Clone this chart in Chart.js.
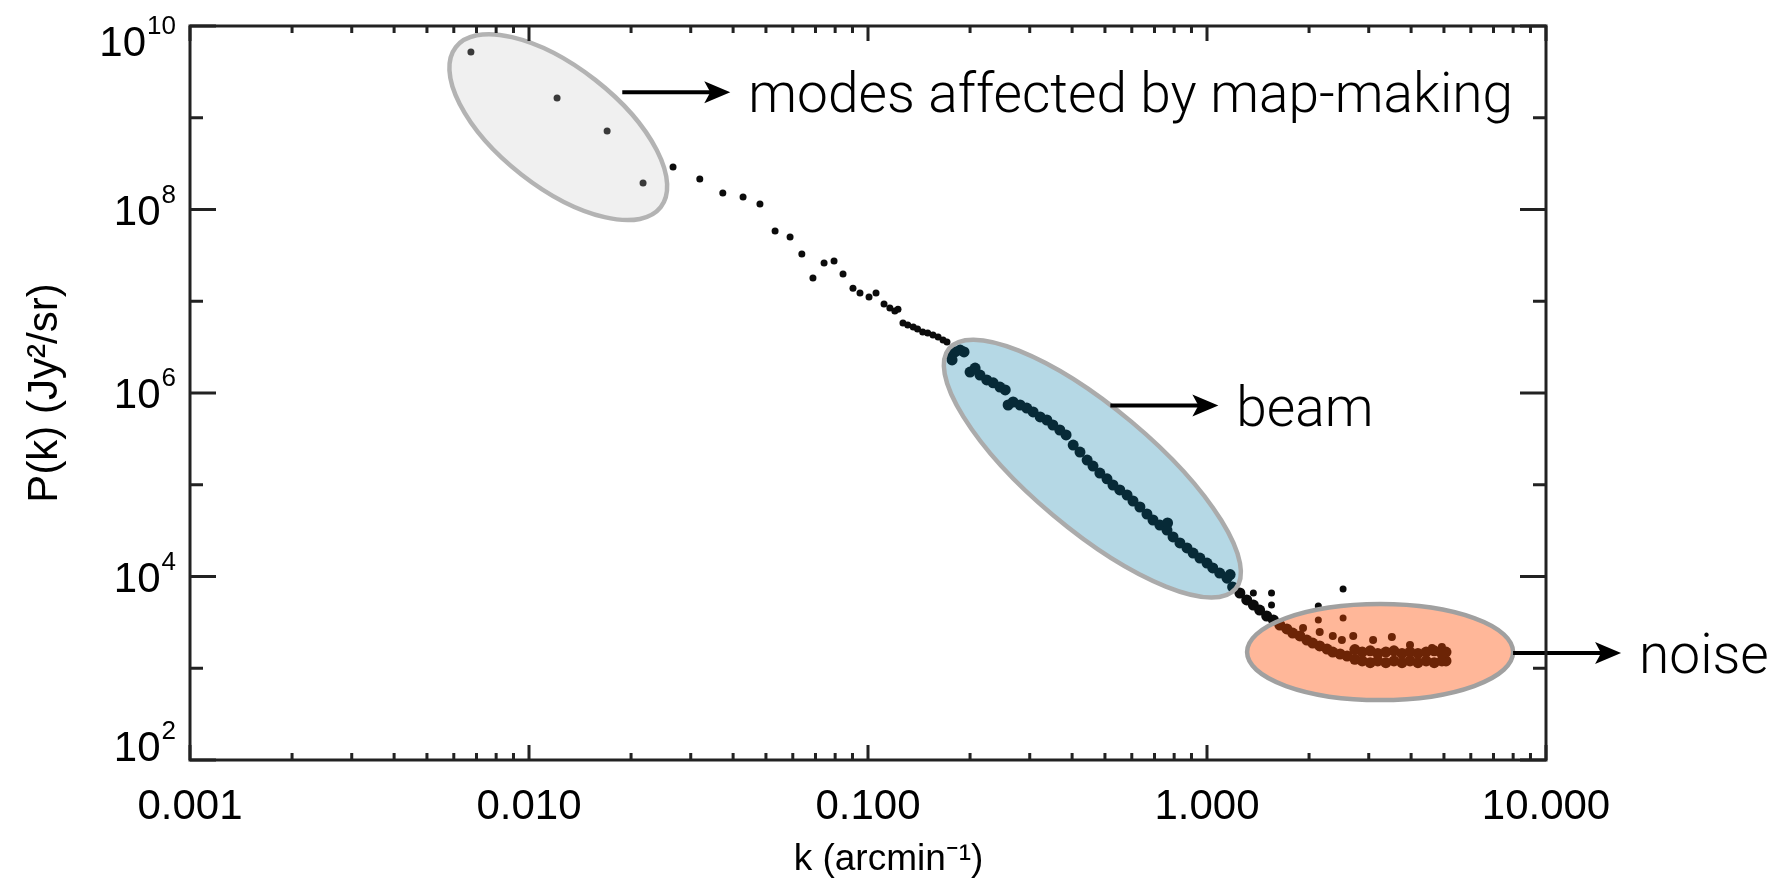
<!DOCTYPE html>
<html>
<head>
<meta charset="utf-8">
<script src="https://cdn.jsdelivr.net/npm/chart.js@4.4.1/dist/chart.umd.min.js"></script>
<style>
  html, body { margin: 0; padding: 0; background: #fff; }
  #wrap { width: 1779px; height: 882px; position: relative; }
</style>
</head>
<body>
<div id="wrap"><canvas id="pk"></canvas></div>
<script>
// low-k bins, sparse dots (grey ellipse and the run down to the beam)
const kLow = [0.00674, 0.0121, 0.0170, 0.0217, 0.0266, 0.0319, 0.0373, 0.0428, 0.0480, 0.0532,
    0.0589, 0.0638, 0.0688, 0.0742, 0.0794, 0.0844, 0.0903, 0.0947, 0.1007, 0.1056,
    0.1115, 0.116, 0.120, 0.1226, 0.1268, 0.131, 0.136, 0.140, 0.145, 0.150,
    0.1555, 0.161, 0.1665, 0.171];
const pLow = [5.2e9, 1.64e9, 7.17e8, 1.94e8, 2.9e8, 2.15e8, 1.51e8, 1.37e8, 1.15e8, 5.83e7,
    5.0e7, 3.27e7, 1.79e7, 2.61e7, 2.75e7, 1.98e7, 1.39e7, 1.23e7, 1.11e7, 1.23e7,
    9.33e6, 8.44e6, 7.83e6, 8.2e6, 5.8e6, 5.5e6, 5.24e6, 4.98e6, 4.62e6, 4.51e6,
    4.29e6, 4.08e6, 3.78e6, 3.6e6];

// dense band through the beam and down to the noise floor
const kBand = [0.1746, 0.177, 0.1806, 0.187, 0.192, 0.200, 0.207, 0.214, 0.224, 0.234,
    0.245, 0.254, 0.259, 0.268, 0.281, 0.294, 0.307, 0.322, 0.337, 0.351,
    0.368, 0.384, 0.403, 0.422, 0.443, 0.461, 0.483, 0.507, 0.528, 0.553,
    0.581, 0.605, 0.634, 0.665, 0.693, 0.726, 0.762, 0.765, 0.794, 0.832,
    0.873, 0.910, 0.953, 1.00, 1.04, 1.09, 1.146, 1.17, 1.19, 1.25,
    1.31, 1.37, 1.43, 1.50, 1.57, 1.64, 1.72, 1.79, 1.88, 1.97,
    2.05, 2.15, 2.26, 2.35, 2.47, 2.59];
const pBand = [2.6e6, 2.29e6, 2.8e6, 2.94e6, 2.8e6, 1.69e6, 1.87e6, 1.57e6, 1.39e6, 1.29e6,
    1.16e6, 1.08e6, 7.4e5, 7.98e5, 7.4e5, 6.86e5, 6.21e5, 5.48e5, 5.08e5, 4.48e5,
    3.95e5, 3.49e5, 2.71e5, 2.27e5, 1.86e5, 1.6e5, 1.34e5, 1.16e5, 9.94e4, 8.77e4,
    7.73e4, 6.65e4, 5.72e4, 4.8e4, 4.13e4, 3.64e4, 3.21e4, 3.83e4, 2.7e4, 2.32e4,
    2.05e4, 1.8e4, 1.59e4, 1.4e4, 1.24e4, 1.09e4, 9.6e3, 1.05e4, 7.69e3, 6.61e3,
    5.55e3, 4.89e3, 4.31e3, 3.71e3, 3.36e3, 2.96e3, 2.68e3, 2.42e3, 2.25e3, 2.03e3,
    1.88e3, 1.75e3, 1.62e3, 1.50e3, 1.43e3, 1.36e3];

// noise floor: upper and lower edge of the flat band
const kFloor = [2.73, 2.87, 3.03, 3.19, 3.37, 3.56, 3.76, 3.97, 4.19, 4.43, 4.68, 4.93, 5.07];
const pFloorHigh = [1.6e3, 1.5e3, 1.55e3, 1.45e3, 1.5e3, 1.55e3, 1.45e3, 1.5e3, 1.45e3, 1.5e3, 1.55e3, 1.45e3, 1.5e3];
const pFloorLow = [1.25e3, 1.2e3, 1.15e3, 1.2e3, 1.15e3, 1.2e3, 1.15e3, 1.2e3, 1.15e3, 1.2e3, 1.15e3, 1.2e3, 1.2e3];

// small spikes above the floor, and the scattered outliers
const kSpike = [1.92, 2.15, 2.35, 2.50, 2.70, 3.09, 3.51, 3.97, 4.61, 4.93];
const pSpike = [2.75e3, 2.48e3, 2.25e3, 2.03e3, 2.25e3, 2.03e3, 2.19e3, 1.79e3, 1.66e3, 1.7e3];
const kOut = [1.37, 1.55, 1.55, 2.13, 2.13, 2.52, 2.52];
const pOut = [6.61e3, 6.61e3, 4.89e3, 4.77e3, 3.36e3, 7.3e3, 3.53e3];

// axes
const xTicks = [0.001, 0.01, 0.1, 1, 10];
const yTicks = [1e2, 1e4, 1e6, 1e8, 1e10];
const yTickBase = '10';
const yTickExp = ['2', '4', '6', '8', '10'];

// annotations
const notes = ['modes affected by map-making', 'beam', 'noise'];

function pts(ks, ps) {
    return ks.map((k, i) => ({ x: k, y: ps[i] }));
}

const ink = '#0b0b0b';
const labelFont = '"Liberation Sans", Arial, Helvetica, sans-serif';

// ellipses drawn over the dots (semi transparent, so dots inside get tinted)
const rings = [
    { k: 0.0122, p: 7.9e8, a: 130, b: 60, angle: 38, fill: 'rgba(196,196,196,0.255)', stroke: '#b3b3b3', dx: 64, dy: -35 },
    { k: 0.459, p: 1.5e5, a: 187, b: 61, angle: 40, fill: 'rgba(0,121,165,0.29)', stroke: '#ababab', dx: 18, dy: -63 },
    { k: 3.24, p: 1.5e3, a: 133, b: 48, angle: 0, fill: 'rgba(255,76,0,0.4)', stroke: '#a0a0a0', dx: 133, dy: 1 }
];

const frame = {
    id: 'frame',
    beforeDraw(chart) {
        const c = chart.ctx;
        c.save();
        c.fillStyle = '#fff';
        c.fillRect(0, 0, chart.width, chart.height);
        c.restore();
    },
    afterDatasetsDraw(chart) {
        const c = chart.ctx;
        const xs = chart.scales.x, ys = chart.scales.y;
        const area = chart.chartArea;

        rings.forEach((r, i) => {
            const cx = xs.getPixelForValue(r.k);
            const cy = ys.getPixelForValue(r.p);
            c.save();
            c.beginPath();
            c.ellipse(cx, cy, r.a, r.b, r.angle * Math.PI / 180, 0, 2 * Math.PI);
            c.fillStyle = r.fill;
            c.fill();
            c.lineWidth = 4.5;
            c.strokeStyle = r.stroke;
            c.stroke();

            // arrow + label
            const ay = cy + r.dy;
            const x0 = cx + r.dx;
            const x1 = x0 + 108;
            c.beginPath();
            c.moveTo(x0, ay);
            c.lineTo(x1 - 16, ay);
            c.lineWidth = 4;
            c.strokeStyle = '#000';
            c.stroke();
            c.beginPath();
            c.moveTo(x1, ay);
            c.lineTo(x1 - 26, ay - 11);
            c.lineTo(x1 - 20, ay);
            c.lineTo(x1 - 26, ay + 11);
            c.closePath();
            c.fillStyle = '#000';
            c.fill();
            c.font = '300 55px Roboto, "Liberation Sans", sans-serif';
            c.textAlign = 'left';
            c.textBaseline = 'alphabetic';
            c.fillText(notes[i], x1 + 18, ay + 20);
            c.restore();
        });

        // frame with inward ticks on all four sides
        c.save();
        c.strokeStyle = '#222';
        c.lineWidth = 3;
        c.strokeRect(area.left, area.top, area.right - area.left, area.bottom - area.top);
        c.beginPath();
        xTicks.forEach((d, i) => {
            const marks = [[d, 15]];
            if (i < xTicks.length - 1) {
                for (let m = 2; m <= 9; m++) marks.push([d * m, 7]);
            }
            marks.forEach(([v, len]) => {
                const px = xs.getPixelForValue(v);
                c.moveTo(px, area.bottom); c.lineTo(px, area.bottom - len);
                c.moveTo(px, area.top); c.lineTo(px, area.top + len);
            });
        });
        for (let e = 2; e <= 10; e++) {
            const py = ys.getPixelForValue(Math.pow(10, e));
            const len = e % 2 === 0 ? 26 : 13;
            c.moveTo(area.left, py); c.lineTo(area.left + len, py);
            c.moveTo(area.right, py); c.lineTo(area.right - len, py);
        }
        c.stroke();

        // y tick labels, 10 with a raised exponent
        c.fillStyle = '#000';
        c.textAlign = 'left';
        c.textBaseline = 'alphabetic';
        const right = area.left - 14;
        yTicks.forEach((v, i) => {
            const py = ys.getPixelForValue(v);
            const cy = Math.min(Math.max(py, area.top + 15), area.bottom - 14);
            c.font = '26px ' + labelFont;
            const ew = c.measureText(yTickExp[i]).width;
            c.font = '42px ' + labelFont;
            const mw = c.measureText(yTickBase).width;
            c.fillText(yTickBase, right - ew - mw - 1, cy + 15);
            c.font = '26px ' + labelFont;
            c.fillText(yTickExp[i], right - ew, cy - 7);
        });
        c.restore();
    }
};

new Chart(document.getElementById('pk'), {
    type: 'scatter',
    data: {
        datasets: [
            { data: pts(kLow, pLow), pointRadius: 3.5, backgroundColor: ink, borderWidth: 0 },
            { data: pts(kBand, pBand), pointRadius: 5.5, backgroundColor: ink, borderWidth: 0 },
            { data: pts(kFloor, pFloorHigh), pointRadius: 5.5, backgroundColor: ink, borderWidth: 0 },
            { data: pts(kFloor, pFloorLow), pointRadius: 5.5, backgroundColor: ink, borderWidth: 0 },
            { data: pts(kSpike, pSpike), pointRadius: 4, backgroundColor: ink, borderWidth: 0 },
            { data: pts(kOut, pOut), pointRadius: 3.5, backgroundColor: ink, borderWidth: 0 }
        ]
    },
    options: {
        responsive: true,
        maintainAspectRatio: false,
        animation: false,
        events: [],
        layout: { padding: { top: 26, right: 233, bottom: 0, left: 0 } },
        plugins: {
            legend: { display: false },
            tooltip: { enabled: false }
        },
        scales: {
            x: {
                type: 'logarithmic',
                position: 'bottom',
                min: 0.001,
                max: 10,
                afterBuildTicks: s => { s.ticks = xTicks.map(v => ({ value: v })); },
                afterFit: s => { s.height = 122; s.paddingLeft = 0; s.paddingRight = 0; },
                grid: { display: false, drawTicks: false },
                border: { display: false },
                ticks: {
                    color: '#000',
                    font: { family: labelFont, size: 42 },
                    padding: 22,
                    maxRotation: 0,
                    autoSkip: false,
                    callback: v => Number(v).toFixed(3)
                },
                title: {
                    display: true,
                    text: '    k (arcmin⁻¹)',
                    color: '#000',
                    font: { family: labelFont, size: 37, lineHeight: 1 },
                    padding: { top: 0, bottom: 4 }
                }
            },
            y: {
                type: 'logarithmic',
                position: 'left',
                min: 1e2,
                max: 1e10,
                afterBuildTicks: s => { s.ticks = yTicks.map(v => ({ value: v })); },
                afterFit: s => { s.width = 190; s.paddingTop = 0; s.paddingBottom = 0; },
                grid: { display: false, drawTicks: false },
                border: { display: false },
                ticks: { display: false },
                title: {
                    display: true,
                    text: 'P(k) (Jy²/sr)',
                    color: '#000',
                    font: { family: labelFont, size: 42 },
                    padding: { top: 20, bottom: 0 }
                }
            }
        }
    },
    plugins: [frame]
});
</script>
</body>
</html>
